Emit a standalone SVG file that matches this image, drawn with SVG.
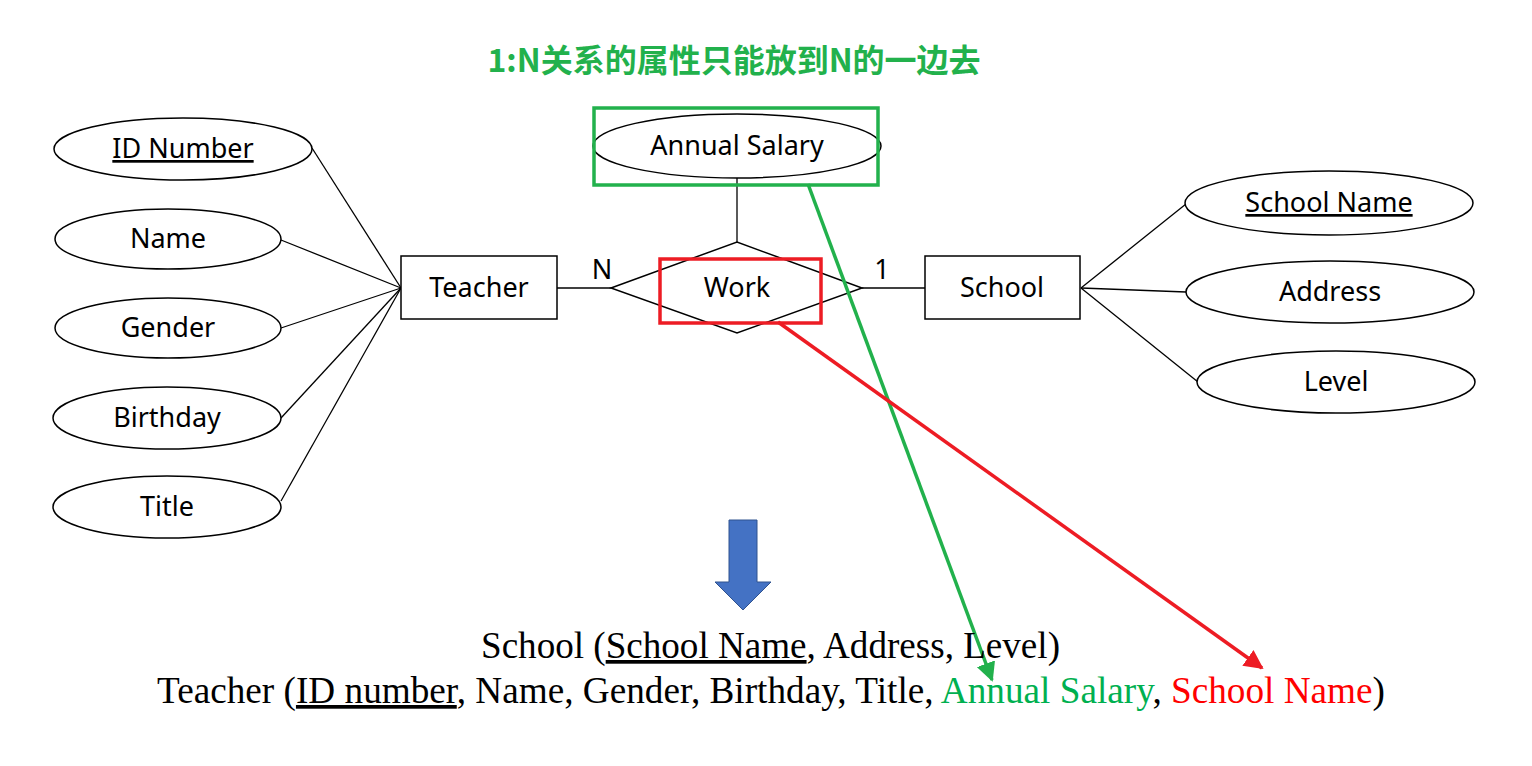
<svg xmlns="http://www.w3.org/2000/svg" width="1532" height="766" viewBox="0 0 1532 766">
<style>
.shape{fill:#fff;stroke:#000;stroke-width:1.5}
.lbl{font-family:"Noto Sans","Open Sans",sans-serif;font-size:27px;fill:#000;text-anchor:middle}
.conn{stroke:#000;stroke-width:1.3;fill:none}
.rel{font-family:"Liberation Serif","Times New Roman",serif;font-size:37px;fill:#000}
.u{text-decoration:underline}
</style>
<defs>
<marker id="ag" viewBox="0 0 10 10" refX="9" refY="5" markerWidth="5.5" markerHeight="5.5" orient="auto" markerUnits="strokeWidth"><path d="M0,0 L10,5 L0,10 z" fill="#22b14c"/></marker>
<marker id="ar" viewBox="0 0 10 10" refX="9" refY="5" markerWidth="5.5" markerHeight="5.5" orient="auto" markerUnits="strokeWidth"><path d="M0,0 L10,5 L0,10 z" fill="#ed1c24"/></marker>
</defs>
<rect width="1532" height="766" fill="#fff"/>
<text x="734" y="72" font-family="'Noto Sans CJK SC',sans-serif" font-weight="bold" font-size="32" fill="#22b14c" text-anchor="middle">1:N关系的属性只能放到N的一边去</text>

<g id="connectors">
<line class="conn" x1="401" y1="288" x2="312" y2="148"/>
<line class="conn" x1="401" y1="288" x2="281" y2="240"/>
<line class="conn" x1="401" y1="288" x2="281" y2="328"/>
<line class="conn" x1="401" y1="288" x2="281" y2="418"/>
<line class="conn" x1="401" y1="288" x2="281" y2="501"/>
<line class="conn" x1="557" y1="288" x2="611" y2="288"/>
<line class="conn" x1="862" y1="288" x2="925" y2="288"/>
<line class="conn" x1="737" y1="178" x2="737" y2="242"/>
<line class="conn" x1="1081" y1="288" x2="1186" y2="204"/>
<line class="conn" x1="1081" y1="288" x2="1186" y2="292"/>
<line class="conn" x1="1081" y1="288" x2="1198" y2="382"/>
<text class="lbl" x="602" y="279">N</text>
<text class="lbl" x="882" y="279">1</text>
</g>

<g id="id-number"><ellipse class="shape" cx="183" cy="149" rx="129" ry="31"/><text class="lbl u" x="183" y="158">ID Number</text></g>
<g id="name"><ellipse class="shape" cx="168" cy="239" rx="113" ry="30"/><text class="lbl" x="168" y="248">Name</text></g>
<g id="gender"><ellipse class="shape" cx="168" cy="328" rx="113" ry="30"/><text class="lbl" x="168" y="337">Gender</text></g>
<g id="birthday"><ellipse class="shape" cx="167" cy="418" rx="114" ry="31"/><text class="lbl" x="167" y="427">Birthday</text></g>
<g id="title"><ellipse class="shape" cx="167" cy="507" rx="114" ry="31"/><text class="lbl" x="167" y="516">Title</text></g>

<g id="teacher"><rect class="shape" x="401" y="256" width="156" height="63"/><text class="lbl" x="479" y="297">Teacher</text></g>
<g id="work"><polygon class="shape" points="611,288 737,242 862,288 737,333"/><text class="lbl" x="737" y="297">Work</text></g>
<g id="annual-salary"><ellipse class="shape" cx="737" cy="146" rx="144" ry="32"/><text class="lbl" x="737" y="155">Annual Salary</text></g>
<g id="school"><rect class="shape" x="925" y="256" width="155" height="63"/><text class="lbl" x="1002" y="297">School</text></g>
<g id="school-name"><ellipse class="shape" cx="1329" cy="203" rx="144" ry="32"/><text class="lbl u" x="1329" y="212">School Name</text></g>
<g id="address"><ellipse class="shape" cx="1330" cy="292" rx="144" ry="31"/><text class="lbl" x="1330" y="301">Address</text></g>
<g id="level"><ellipse class="shape" cx="1336" cy="382" rx="139" ry="31"/><text class="lbl" x="1336" y="391">Level</text></g>

<g id="highlights">
<rect x="594" y="108" width="284" height="77" fill="none" stroke="#22b14c" stroke-width="3.5"/>
<rect x="660" y="259" width="161" height="64" fill="none" stroke="#ed1c24" stroke-width="3.5"/>
<line x1="808" y1="184" x2="992" y2="680" stroke="#22b14c" stroke-width="3.5" marker-end="url(#ag)"/>
<line x1="778" y1="322" x2="1262" y2="668" stroke="#ed1c24" stroke-width="3.5" marker-end="url(#ar)"/>
</g>

<g id="down-arrow"><polygon points="729,520 757,520 757,582 771,582 743,610 715,582 729,582" fill="#4472c4" stroke="#2f528f" stroke-width="1"/></g>

<g id="relations">
<text class="rel" x="481" y="658" textLength="579" lengthAdjust="spacingAndGlyphs">School (<tspan class="u">School Name</tspan>, Address, Level)</text>
<text class="rel" x="157" y="703" textLength="1228" lengthAdjust="spacingAndGlyphs">Teacher (<tspan class="u">ID number</tspan>, Name, Gender, Birthday, Title, <tspan fill="#00b050">Annual Salary</tspan>, <tspan fill="#ff0000">School Name</tspan>)</text>
</g>
</svg>
